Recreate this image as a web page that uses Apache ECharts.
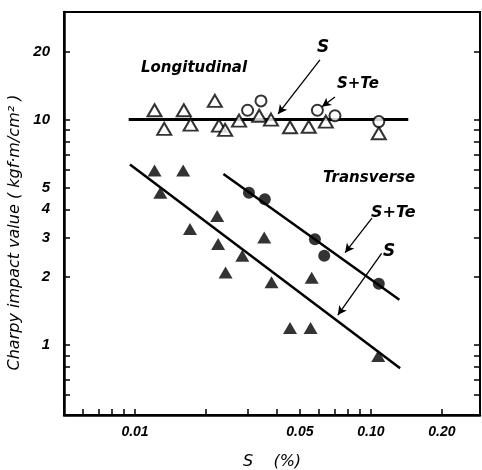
<!DOCTYPE html>
<html><head><meta charset="utf-8">
<script src="https://cdn.jsdelivr.net/npm/echarts@6/dist/echarts.min.js"></script>
<style>html,body{margin:0;padding:0;background:#fff}#c{width:482px;height:470px}</style>
</head><body><div id="c"></div>
<script>
// Longitudinal, S (open triangles)
const longS = [[0.0121,11.0],[0.0133,9.1],[0.0161,11.0],[0.0172,9.5],[0.0218,12.1],[0.0227,9.4],[0.0241,9.0],[0.0276,9.9],[0.0336,10.4],[0.0377,10.0],[0.0454,9.25],[0.0545,9.3],[0.0644,9.8],[0.108,8.7]];
// Longitudinal, S+Te (open circles)
const longSTe = [[0.030,11.0],[0.0342,12.1],[0.0593,11.0],[0.0704,10.4],[0.108,9.8]];
// Transverse, S (filled triangles)
const transS = [[0.0121,5.94],[0.0160,5.94],[0.0128,4.74],[0.0223,3.74],[0.0171,3.27],[0.0225,2.81],[0.0353,3.0],[0.0285,2.49],[0.0242,2.10],[0.0379,1.90],[0.0561,1.99],[0.0454,1.19],[0.0555,1.19],[0.1074,0.895]];
// Transverse, S+Te (filled circles)
const transSTe = [[0.0304,4.74],[0.0355,4.43],[0.0579,2.95],[0.0634,2.49],[0.108,1.87]];
// Fitted lines (end points)
const longFit = [[0.0094,10],[0.144,10]];
const transSFit = [[0.00952,6.32],[0.133,0.789]];
const transSTeFit = [[0.0237,5.74],[0.132,1.59]];
// Annotation arrows [from, to] in data space
const arrows = [
  [[0.0608,18.4],[0.0404,10.6]],
  [[0.0704,12.6],[0.0620,11.4]],
  [[0.101,3.66],[0.0777,2.57]],
  [[0.111,2.55],[0.0724,1.36]]
];
// Tick values
const xTicks = [0.006,0.007,0.008,0.009,0.01,0.02,0.03,0.04,0.05,0.06,0.07,0.08,0.09,0.1,0.2];
const xLabels = [0.01,0.05,0.1,0.2];
const xLabelText = {0.01:'0.01',0.05:'0.05',0.1:'0.10',0.2:'0.20'};
const yTicks = [0.6,0.7,0.8,0.9,1,2,3,4,5,6,7,8,9,10,20];
const yLabels = [1,2,3,4,5,10,20];

const font = 'Liberation Sans';
const annFont = '"DejaVu Sans"';
const chart = echarts.init(document.getElementById('c'));
const markerBase = {type:'scatter', z:5};
chart.setOption({
  animation:false,
  backgroundColor:'#fff',
  grid:{left:64,top:12,right:2,bottom:55,show:true,borderColor:'#000',borderWidth:2,outerBoundsMode:'none',containLabel:false},
  xAxis:{type:'log',min:0.005,max:0.29,
    axisLine:{lineStyle:{color:'#000',width:2.5}},
    axisTick:{inside:true,length:6,customValues:xTicks,lineStyle:{color:'#000',width:1.5}},
    minorTick:{show:false},splitLine:{show:false},
    axisLabel:{customValues:xLabels,margin:10,color:'#000',fontFamily:font,fontStyle:'italic',fontWeight:'bold',fontSize:14,
      formatter:v=>xLabelText[v] || String(v)},
    name:'S    (%)',nameLocation:'middle',nameGap:39,
    nameTextStyle:{color:'#000',fontFamily:'DejaVu Sans',fontStyle:'italic',fontSize:16}
  },
  yAxis:[{type:'log',min:0.49,max:30,
    axisLine:{lineStyle:{color:'#000',width:2.5}},
    axisTick:{inside:true,length:6,customValues:yTicks,lineStyle:{color:'#000',width:1.5}},
    minorTick:{show:false},splitLine:{show:false},
    axisLabel:{customValues:yLabels,margin:14,color:'#000',fontFamily:font,fontStyle:'italic',fontWeight:'bold',fontSize:15},
    name:'Charpy impact value ( kgf·m/cm² )',nameLocation:'middle',nameGap:41,nameRotate:90,
    nameTextStyle:{color:'#000',fontFamily:'DejaVu Sans',fontStyle:'italic',fontSize:16,padding:[0,38,0,0]}
  },{type:'log',min:0.49,max:30,position:'right',
    axisLine:{lineStyle:{color:'#000',width:2}},
    axisTick:{inside:true,length:6,customValues:yTicks,lineStyle:{color:'#000',width:1.5}},
    minorTick:{show:false},splitLine:{show:false},axisLabel:{show:false}
  }],
  series:[
    {type:'line',data:longFit,symbol:'none',lineStyle:{color:'#000',width:3},z:2,silent:true},
    {type:'line',data:transSFit,symbol:'none',lineStyle:{color:'#000',width:2.5},z:2,silent:true},
    {type:'line',data:transSTeFit,symbol:'none',lineStyle:{color:'#000',width:2.5},z:2,silent:true},
    Object.assign({},markerBase,{name:'Long S',data:longS,symbol:'triangle',symbolSize:[14,12],
      itemStyle:{color:'#fff',borderColor:'#000',borderWidth:2}}),
    Object.assign({},markerBase,{name:'Long S+Te',data:longSTe,symbol:'circle',symbolSize:11,
      itemStyle:{color:'#fff',borderColor:'#000',borderWidth:2}}),
    Object.assign({},markerBase,{name:'Trans S',data:transS,symbol:'triangle',symbolSize:[14,12],
      itemStyle:{color:'#000'}}),
    Object.assign({},markerBase,{name:'Trans S+Te',data:transSTe,symbol:'circle',symbolSize:12,
      itemStyle:{color:'#000'}}),
    {type:'line',data:[],silent:true,z:4,
      markLine:{silent:true,symbol:['none','arrow'],symbolSize:[7,9],label:{show:false},
        lineStyle:{color:'#000',width:1.3,type:'solid'},
        data:arrows.map(a=>[{coord:a[0]},{coord:a[1]}])}}
  ],
  graphic:[
    {type:'text',left:141,top:61,style:{text:'Longitudinal',font:'italic bold 15px '+annFont,fill:'#000'}},
    {type:'text',left:317,top:39,style:{text:'S',font:'italic bold 17px '+annFont,fill:'#000'}},
    {type:'text',left:337,top:77,style:{text:'S+Te',font:'italic bold 15px '+annFont,fill:'#000'}},
    {type:'text',left:323,top:171,style:{text:'Transverse',font:'italic bold 15px '+annFont,fill:'#000'}},
    {type:'text',left:371,top:205,style:{text:'S+Te',font:'italic bold 16px '+annFont,fill:'#000'}},
    {type:'text',left:383,top:243,style:{text:'S',font:'italic bold 17px '+annFont,fill:'#000'}}
  ]
});
</script></body></html>
